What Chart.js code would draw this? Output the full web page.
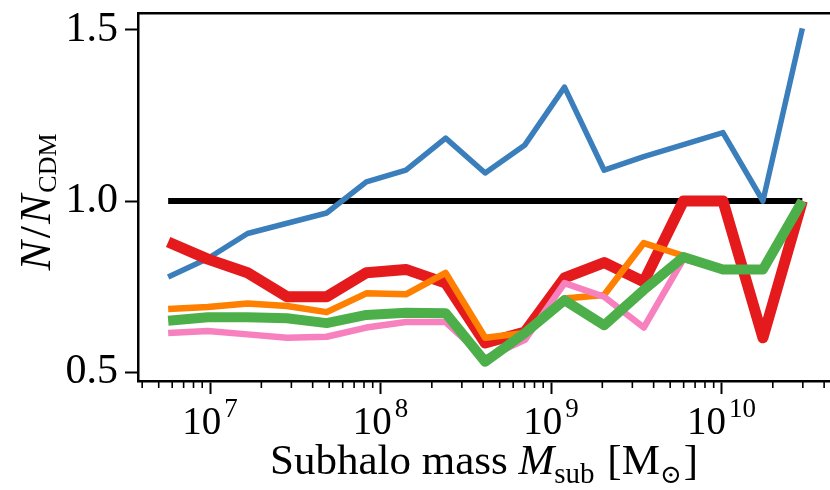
<!DOCTYPE html>
<html lang="en">
<head>
  <meta charset="UTF-8" />
  <title>N / N_CDM vs subhalo mass</title>
  <script src="https://cdn.jsdelivr.net/npm/chart.js"></script>
  <style>
    body {
      margin: 0;
      background: #fff;
    }
    #chart-container {
      width: 830px;
      height: 490px;
    }
  </style>
</head>
<body>
  <div id="chart-container">
    <canvas id="chart"></canvas>
  </div>

  <script>
    // subhalo mass bins [Msun]
    const massBins = [5.68e6, 9.70e6, 1.66e7, 2.83e7, 4.83e7, 8.26e7, 1.41e8, 2.41e8, 4.11e8,
                      7.03e8, 1.20e9, 2.05e9, 3.50e9, 5.98e9, 1.02e10, 1.75e10, 2.98e10];

    // N / N_CDM per model
    const blueRatio   = [0.778, 0.832, 0.905, 0.935, 0.965, 1.056, 1.090, 1.184, 1.082,
                         1.164, 1.333, 1.090, 1.130, 1.165, 1.200, 1.000, 1.505];
    const redRatio    = [0.880, 0.830, 0.790, 0.720, 0.720, 0.790, 0.800, 0.760, 0.585,
                         0.617, 0.775, 0.820, 0.764, 1.000, 1.000, 0.600, 1.000];
    const orangeRatio = [0.684, 0.690, 0.700, 0.693, 0.675, 0.730, 0.727, 0.790, 0.600,
                         0.614, 0.715, 0.725, 0.877, 0.840, 0.800, 0.800, 1.000];
    const pinkRatio   = [0.614, 0.620, 0.610, 0.600, 0.603, 0.630, 0.646, 0.646, 0.540,
                         0.594, 0.760, 0.720, 0.630, 0.830, 0.800, 0.800, 1.000];
    const greenRatio  = [0.650, 0.660, 0.660, 0.657, 0.643, 0.667, 0.673, 0.672, 0.530,
                         0.614, 0.710, 0.637, 0.740, 0.836, 0.800, 0.800, 1.000];
    const cdmRatio    = [1.0, 1.0];

    // axis ticks
    const xMajorTicks = [1e7, 1e8, 1e9, 1e10];
    const xExponents  = ['7', '8', '9', '10'];
    const xMinorTicks = [4e6, 5e6, 6e6, 7e6, 8e6, 9e6,
                         2e7, 3e7, 4e7, 5e7, 6e7, 7e7, 8e7, 9e7,
                         2e8, 3e8, 4e8, 5e8, 6e8, 7e8, 8e8, 9e8,
                         2e9, 3e9, 4e9, 5e9, 6e9, 7e9, 8e9, 9e9,
                         2e10, 3e10, 4e10];
    const yTicks = [0.5, 1.0, 1.5];

    const serif = '"Liberation Serif", "DejaVu Serif", serif';

    function toPoints(values) {
      return values.map((v, i) => ({ x: massBins[i], y: v }));
    }

    // draw a run of text pieces with different fonts / offsets
    function drawRich(ctx, parts, cx, baseline) {
      let total = 0;
      parts.forEach(p => {
        ctx.font = p.font;
        p.w = ctx.measureText(p.text).width + (p.gap || 0);
        total += p.w;
      });
      let px = cx - total / 2;
      ctx.textAlign = 'left';
      ctx.textBaseline = 'alphabetic';
      parts.forEach(p => {
        ctx.font = p.font;
        ctx.fillText(p.text, px + (p.gap || 0), baseline + (p.dy || 0));
        px += p.w;
      });
    }

    const axisText = {
      id: 'axisText',
      afterDraw(chart) {
        const ctx = chart.ctx;
        const xs = chart.scales.x;
        const bottom = chart.chartArea.bottom;
        ctx.save();
        ctx.fillStyle = '#000';
        ctx.strokeStyle = '#000';

        // minor ticks on the log axis
        ctx.lineWidth = 1.6;
        xMinorTicks.forEach(v => {
          const px = xs.getPixelForValue(v);
          if (px < chart.chartArea.left || px > chart.chartArea.right) return;
          ctx.beginPath();
          ctx.moveTo(px, bottom);
          ctx.lineTo(px, bottom + 7);
          ctx.stroke();
        });

        // 10^n labels
        xMajorTicks.forEach((v, i) => {
          drawRich(ctx, [
            { text: '10', font: '39px ' + serif },
            { text: xExponents[i], font: '27px ' + serif, dy: -17, gap: 3 }
          ], xs.getPixelForValue(v), 434);
        });

        // x title
        drawRich(ctx, [
          { text: 'Subhalo mass ', font: '43px ' + serif },
          { text: 'M', font: 'italic 43px ' + serif },
          { text: 'sub', font: '29px ' + serif, dy: 9 },
          { text: ' [M', font: '43px ' + serif, gap: 2 },
          { text: '\u2299', font: '26px ' + serif, dy: 9 },
          { text: ']', font: '43px ' + serif, gap: 2 }
        ], 484, 474);

        // y title
        ctx.translate(50, 202);
        ctx.rotate(-Math.PI / 2);
        drawRich(ctx, [
          { text: 'N', font: 'italic 44px ' + serif },
          { text: '/', font: '44px ' + serif, gap: 3 },
          { text: 'N', font: 'italic 44px ' + serif, gap: 2 },
          { text: 'CDM', font: '26px ' + serif, dy: 6, gap: 2 }
        ], 0, 0);
        ctx.restore();
      }
    };

    const line = (data, color, width, order) => ({
      data: data,
      borderColor: color,
      borderWidth: width,
      pointRadius: 0,
      tension: 0,
      fill: false,
      order: order,
      borderJoinStyle: 'round',
      borderCapStyle: 'butt'
    });

    const chartConfig = {
      type: 'line',
      data: {
        datasets: [
          line([{ x: massBins[0], y: cdmRatio[0] }, { x: massBins[massBins.length - 1], y: cdmRatio[1] }], '#000000', 6, 5),
          line(toPoints(blueRatio), '#3a7ebb', 5.5, 4),
          line(toPoints(redRatio), '#e41a1c', 11, 3),
          line(toPoints(orangeRatio), '#ff7f00', 6.5, 2),
          line(toPoints(pinkRatio), '#f781bf', 6.5, 1),
          line(toPoints(greenRatio), '#4daf4a', 10, 0)
        ]
      },
      options: {
        animation: false,
        responsive: true,
        maintainAspectRatio: false,
        layout: { padding: 0 },
        plugins: {
          legend: { display: false },
          tooltip: { enabled: false }
        },
        scales: {
          x: {
            type: 'logarithmic',
            position: 'bottom',
            min: 3.78e6,
            max: 4.33e10,
            afterBuildTicks: s => { s.ticks = xMajorTicks.map(v => ({ value: v })); },
            afterFit: s => {
              s.height = 109;
              s.paddingLeft = 0;
              s.paddingRight = 0;
            },
            ticks: { display: false },
            grid: { drawOnChartArea: false, drawTicks: true, tickLength: 13, tickWidth: 2, tickColor: '#000' },
            border: { display: true, color: '#000', width: 2.5 }
          },
          xTop: {
            type: 'linear',
            position: 'top',
            afterFit: s => {
              s.height = 13;
              s.paddingLeft = 0;
              s.paddingRight = 0;
            },
            ticks: { display: false },
            grid: { display: false, drawTicks: false },
            border: { display: true, color: '#000', width: 2.5 }
          },
          y: {
            min: 0.4737,
            max: 1.5497,
            afterBuildTicks: s => { s.ticks = yTicks.map(v => ({ value: v })); },
            afterFit: s => {
              s.width = 138;
              s.paddingTop = 0;
              s.paddingBottom = 0;
            },
            ticks: {
              color: '#000',
              padding: 7,
              font: { family: serif, size: 42 },
              callback: v => v.toFixed(1)
            },
            grid: { drawOnChartArea: false, drawTicks: true, tickLength: 13, tickWidth: 2, tickColor: '#000' },
            border: { display: true, color: '#000', width: 2.5 }
          }
        }
      },
      plugins: [axisText]
    };

    const ctx = document.getElementById('chart').getContext('2d');
    const chart = new Chart(ctx, chartConfig);
  </script>
</body>
</html>
